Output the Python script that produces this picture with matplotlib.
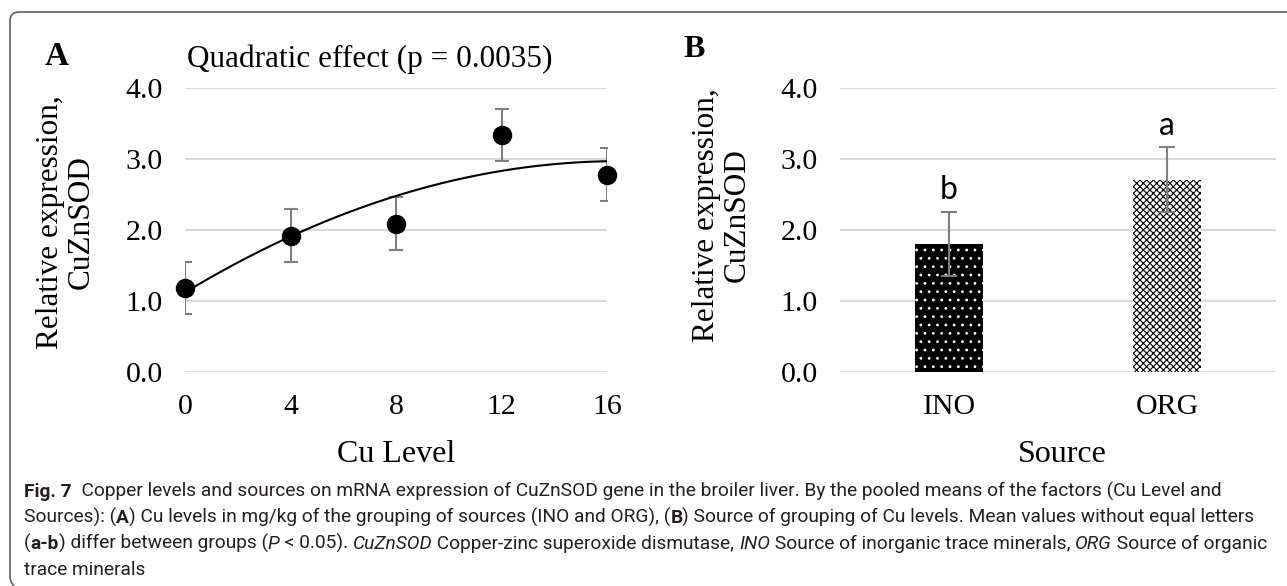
import matplotlib
matplotlib.use("Agg")
import matplotlib.pyplot as plt
import numpy as np
from matplotlib.path import Path
from matplotlib.patches import PathPatch
from matplotlib.transforms import Affine2D
from matplotlib import font_manager

# ---------------- data ----------------
cu_levels = [0, 4, 8, 12, 16]
cu_means = [1.18, 1.92, 2.09, 3.34, 2.78]
cu_err = [0.37, 0.37, 0.37, 0.37, 0.37]

sources = ["INO", "ORG"]
src_means = [1.80, 2.71]
src_err = [0.45, 0.455]
src_letters = ["b", "a"]

yticks = [0.0, 1.0, 2.0, 3.0, 4.0]
title_a = "Quadratic effect (p = 0.0035)"

W, H = 1287, 586
SERIF = "Liberation Serif"
plt.rcParams["hatch.linewidth"] = 0.8

fig = plt.figure(figsize=(W / 100, H / 100), dpi=100)
fig.patch.set_facecolor("white")


def fx(x):
    return x / W


def fy(y):
    return 1 - y / H


def style_axes(ax):
    for s in ax.spines.values():
        s.set_visible(False)
    ax.set_ylim(0, 4)
    ax.set_yticks(yticks)
    ax.set_yticklabels([f"{v:.1f}" for v in yticks], fontfamily=SERIF, fontsize=21.5)
    ax.tick_params(axis="both", length=0, pad=16)
    ax.tick_params(axis="x", pad=16)
    ax.grid(axis="y", color="#d9d9d9", linewidth=1.5, zorder=0)
    ax.set_axisbelow(True)


# ---------------- panel A ----------------
axA = fig.add_axes([fx(185), fy(372), (607 - 185) / W, (372 - 88) / H])
style_axes(axA)
axA.set_xlim(0, 16)
axA.set_xticks(cu_levels)
axA.set_xticklabels([str(v) for v in cu_levels], fontfamily=SERIF, fontsize=21.5)

coef = np.polyfit(cu_levels, cu_means, 2)
xs = np.linspace(cu_levels[0], cu_levels[-1], 200)
axA.plot(xs, np.polyval(coef, xs), color="black", lw=1.5, zorder=3)
axA.errorbar(cu_levels, cu_means, yerr=cu_err, fmt="none", ecolor="#7f7f7f",
             elinewidth=1.5, capsize=5, capthick=1.5, zorder=2)
axA.plot(cu_levels, cu_means, "o", color="black", ms=13, zorder=4, clip_on=False)

# ---------------- panel B ----------------
axB = fig.add_axes([fx(840), fy(372), (1276 - 840) / W, (372 - 88) / H])
style_axes(axB)
axB.set_xlim(-0.5, 1.5)
xpos = np.arange(len(sources))
axB.bar(xpos[0], src_means[0], width=0.31, color="black", edgecolor="white",
        hatch="..", linewidth=0, zorder=2)
axB.bar(xpos[1], src_means[1], width=0.31, color="white", edgecolor="black",
        hatch="xxxxx", linewidth=0, zorder=2)
axB.errorbar(xpos, src_means, yerr=src_err, fmt="none", ecolor="#7f7f7f",
             elinewidth=1.5, capsize=6, capthick=1.5, zorder=3)
axB.set_xticks(xpos)
axB.set_xticklabels(sources, fontfamily=SERIF, fontsize=21.5)
for x, m, e, lab in zip(xpos, src_means, src_err, src_letters):
    axB.text(x, m + e + 0.18, lab, ha="center", va="baseline",
             fontfamily="Lato", fontsize=23)

# ---------------- labels ----------------
fig.text(fx(45), fy(65), "A", fontfamily=SERIF, fontweight="bold", fontsize=24,
         ha="left", va="baseline")
fig.text(fx(683), fy(57), "B", fontfamily=SERIF, fontweight="bold", fontsize=23,
         ha="left", va="baseline")
fig.text(fx(187), fy(67), title_a, fontfamily=SERIF, fontsize=22.5,
         ha="left", va="baseline")
ylab = "Relative expression,\nCuZnSOD"
fig.text(fx(66), fy(222), ylab, fontfamily=SERIF, fontsize=22.5, rotation=90,
         ha="center", va="center", multialignment="center", linespacing=1.1)
fig.text(fx(722), fy(215), ylab, fontfamily=SERIF, fontsize=22.5, rotation=90,
         ha="center", va="center", multialignment="center", linespacing=1.1)
fig.text(fx(396), fy(462), "Cu Level", fontfamily=SERIF, fontsize=23,
         ha="center", va="baseline")
fig.text(fx(1062), fy(462), "Source", fontfamily=SERIF, fontsize=23,
         ha="center", va="baseline")

# ---------------- frame ----------------
to_disp = Affine2D().scale(1, -1).translate(0, H)
verts = [(1295, 12), (19, 12), (10, 12), (10, 21), (10, 576), (10, 585), (19, 590)]
codes = [Path.MOVETO, Path.LINETO, Path.CURVE3, Path.CURVE3, Path.LINETO,
         Path.CURVE3, Path.CURVE3]
fig.add_artist(PathPatch(Path(verts, codes), facecolor="none", edgecolor="#6a6a6a",
                         lw=1.3, transform=to_disp))

# ---------------- caption ----------------
names = {f.name for f in font_manager.fontManager.ttflist}
cap_font = "Liberation Sans Narrow" if "Liberation Sans Narrow" in names else "Roboto"

caption_lines = [
    [("Fig. 7", "bold", "normal"),
     ("  Copper levels and sources on mRNA expression of CuZnSOD gene in the broiler liver. "
      "By the pooled means of the factors (Cu Level and", "normal", "normal")],
    [("Sources): (", "normal", "normal"), ("A", "bold", "normal"),
     (") Cu levels in mg/kg of the grouping of sources (INO and ORG), (", "normal", "normal"),
     ("B", "bold", "normal"),
     (") Source of grouping of Cu levels. Mean values without equal letters", "normal", "normal")],
    [("(", "normal", "normal"), ("a-b", "bold", "normal"),
     (") differ between groups (", "normal", "normal"), ("P", "normal", "italic"),
     (" < 0.05). ", "normal", "normal"), ("CuZnSOD", "normal", "italic"),
     (" Copper-zinc superoxide dismutase, ", "normal", "normal"), ("INO", "normal", "italic"),
     (" Source of inorganic trace minerals, ", "normal", "normal"), ("ORG", "normal", "italic"),
     (" Source of organic", "normal", "normal")],
    [("trace minerals", "normal", "normal")],
]

renderer = fig.canvas.get_renderer()


def run_width(txt, weight, style, size):
    t1 = fig.text(0, 0, "x" + txt + "x", fontfamily=cap_font, fontweight=weight,
                  fontstyle=style, fontsize=size)
    t2 = fig.text(0, 0, "xx", fontfamily=cap_font, fontweight=weight,
                  fontstyle=style, fontsize=size)
    w = t1.get_window_extent(renderer).width - t2.get_window_extent(renderer).width
    t1.remove()
    t2.remove()
    return w


base = 10
w1 = sum(run_width(t, w, s, base) for t, w, s in caption_lines[0])
cap_size = base * (1226 - 24) / w1
baselines = [497, 523, 549, 575]
for line, yb in zip(caption_lines, baselines):
    x = 24
    for txt, weight, style in line:
        fig.text(fx(x), fy(yb), txt, fontfamily=cap_font, fontweight=weight,
                 fontstyle=style, fontsize=cap_size, color="#231f20",
                 ha="left", va="baseline")
        x += run_width(txt, weight, style, cap_size)

fig.savefig("out.png", dpi=100, facecolor="white")
